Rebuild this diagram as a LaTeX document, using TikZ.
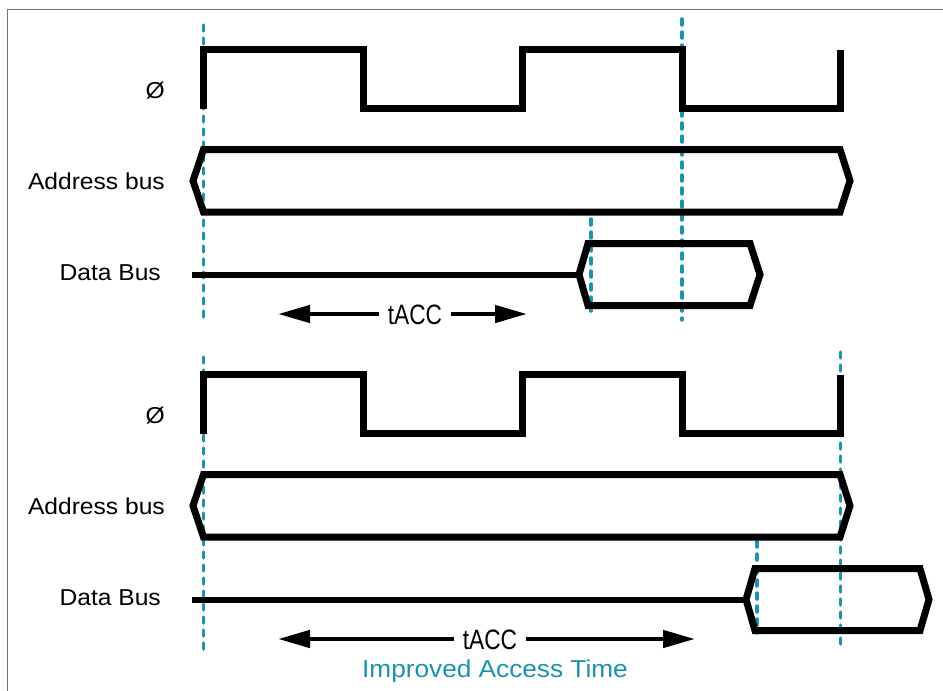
\documentclass[tikz,border=0pt]{standalone}
\usepackage{fontspec}
\setmainfont{Liberation Sans}
\newfontfamily\labelfont[FakeStretch=1.07]{Liberation Sans}
\newfontfamily\accfont[FakeStretch=0.81]{Liberation Sans}
\usetikzlibrary{arrows.meta}
\definecolor{marker}{HTML}{1A93AB}
\definecolor{framegray}{HTML}{707070}
\tikzset{
  signal/.style={line width=7pt, line join=miter, line cap=butt},
  wire/.style={line width=6pt},
  edgemark/.style={marker, line width=3.5pt, dash pattern=on 6pt off 7pt, line cap=round},
  span/.style={line width=4.5pt, -{Triangle[length=32pt,width=17pt]}},
  siglabel/.style={anchor=base east, inner sep=0pt, font=\labelfont\fontsize{23}{27}\selectfont},
  acclabel/.style={anchor=base, inner xsep=9pt, inner ysep=0pt, font=\accfont\fontsize{28}{32}\selectfont},
}
\begin{document}
\begin{tikzpicture}[x=1pt,y=-1pt]
\useasboundingbox (0,0) rectangle (943,691);
% outer frame (top and left)
\draw[framegray, line width=1.5pt] (7.5,691) -- (7.5,9.5) -- (943,9.5);

% ---------- timing markers ----------
\draw[edgemark] (203.5,25) -- (203.5,320);
\draw[edgemark] (682,19) -- (682,320);
\draw[edgemark] (591,219) -- (591,311);
\draw[edgemark] (203.5,357) -- (203.5,650);
\draw[edgemark] (757,541) -- (757,633);
\draw[edgemark] (840.5,352) -- (840.5,650);

% ---------- clock and address bus (both cycles) ----------
\foreach \dy in {0,325}{
  \begin{scope}[shift={(0,\dy)}]
    \draw[signal] (203.5,108.5) -- (203.5,49.5) -- (363.5,49.5) -- (363.5,108.5)
      -- (522.5,108.5) -- (522.5,49.5) -- (682,49.5) -- (682,108.5)
      -- (840.5,108.5) -- (840.5,49.5);
    \draw[signal] (203.5,149.5) -- (840,149.5) -- (850,180.75) -- (840,212)
      -- (203.5,212) -- (193,180.75) -- cycle;
  \end{scope}
}

% ---------- data bus, first cycle ----------
\coordinate (d1start) at (192,274.5);
\coordinate (d1tip) at (579,274.5);
\draw[wire] (d1start) -- (d1tip);
\draw[signal] (d1tip) -- (588,243.5) -- (750,243.5) -- (760,274.5)
  -- (750,305.5) -- (588,305.5) -- cycle;

% ---------- data bus, improved cycle ----------
\coordinate (d2start) at (192,599.5);
\coordinate (d2tip) at (746,599.5);
\draw[wire] (d2start) -- (d2tip);
\draw[signal] (d2tip) -- (755,568.5) -- (920,568.5) -- (929,599.5)
  -- (920,630.5) -- (755,630.5) -- cycle;

% ---------- signal names ----------
\node[siglabel] (clk1) at (165,98) {Ø};
\node[siglabel] (addr1) at (165,189) {Address bus};
\node[siglabel] (data1) at (161,280.5) {Data Bus};
\node[siglabel] (clk2) at (165,423) {Ø};
\node[siglabel] (addr2) at (165,514) {Address bus};
\node[siglabel] (data2) at (161,605.5) {Data Bus};

% ---------- access time spans ----------
\node[acclabel] (acc1) at (415,324) {tACC};
\coordinate (acc1L) at (278,314);
\coordinate (acc1R) at (527,314);
\draw[span] (acc1.west |- acc1L) -- (acc1L);
\draw[span] (acc1.east |- acc1R) -- (acc1R);

\node[acclabel] (acc2) at (490,649) {tACC};
\coordinate (acc2L) at (278,639);
\coordinate (acc2R) at (695,639);
\draw[span] (acc2.west |- acc2L) -- (acc2L);
\draw[span] (acc2.east |- acc2R) -- (acc2R);

\node[anchor=base, inner sep=0pt, text=marker,
  font=\labelfont\fontsize{24.5}{28}\selectfont] (improved) at (495,677) {Improved Access Time};
\end{tikzpicture}
\end{document}
